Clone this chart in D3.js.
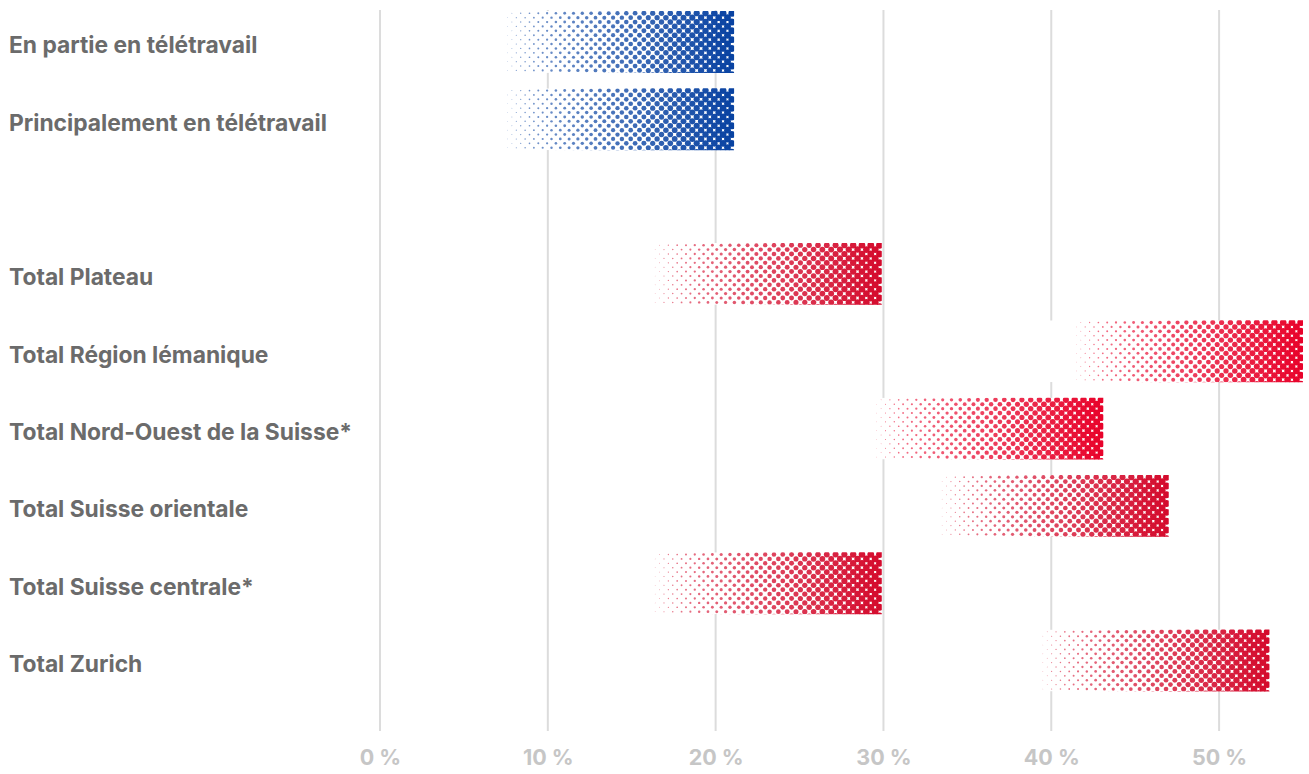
<!DOCTYPE html>
<html>
<head>
<meta charset="utf-8">
<script src="https://cdn.jsdelivr.net/npm/d3@7"></script>
<style>
  html, body { margin: 0; padding: 0; background: #fff; }
  svg { display: block; }
  text { font-family: Inter, "Noto Sans", sans-serif; font-weight: 700; }
</style>
</head>
<body>
<svg id="chart" width="1309" height="774"></svg>
<script>
// ---- data ----
const categories = [
  "En partie en télétravail",
  "Principalement en télétravail",
  "",
  "Total Plateau",
  "Total Région lémanique",
  "Total Nord-Ouest de la Suisse*",
  "Total Suisse orientale",
  "Total Suisse centrale*",
  "Total Zurich"
];
const values = [21.1, 21.1, null, 29.9, 55.0, 43.1, 47.0, 29.9, 53.0];
const groups = ["blue", "blue", null, "redMuted", "red", "red", "redMuted", "redMuted", "redMuted"];
const tickValues = [0, 10, 20, 30, 40, 50];
const tickLabels = ["0 %", "10 %", "20 %", "30 %", "40 %", "50 %"];

// ---- styles ----
const palette = { blue: "#0842a2", red: "#e8022a", redMuted: "#d40a2c" };
const fadeSpan = 14;     // percentage points covered by the halftone fade
const whiteSpan = 16;    // percentage points of white backing behind a bar
const cell = 4.4, maxR = 3.5;

const svg = d3.select("#chart");
const x = d3.scaleLinear().domain([0, 55]).range([380, 1303]);
const y = d3.scaleBand().domain(categories.map((c, i) => i))
  .range([3.3, 699.2]).paddingInner(0.2).paddingOuter(0.1);

// gridlines
svg.append("g").selectAll("line").data(tickValues).join("line")
  .attr("x1", d => x(d)).attr("x2", d => x(d))
  .attr("y1", 10).attr("y2", 731)
  .attr("stroke", "#dcdcdc").attr("stroke-width", 2);

// axis labels
const axis = d3.axisBottom(x).tickValues(tickValues)
  .tickFormat((d, i) => tickLabels[i]).tickSize(0).tickPadding(0);
const ax = svg.append("g").attr("transform", "translate(0,750)").call(axis);
ax.select(".domain").remove();
ax.selectAll("text").attr("fill", "#c6c6c6").style("font-size", "21.5px")
  .style("font-family", "Inter, 'Noto Sans', sans-serif").style("font-weight", 700);

// category labels
svg.append("g").selectAll("text").data(categories).join("text")
  .attr("x", 9).attr("y", (d, i) => y(i) + y.bandwidth() / 2 + 3)
  .attr("dominant-baseline", "central")
  .attr("fill", "#6b6b6b").style("font-size", "22.8px")
  .text(d => d);

// bars
const defs = svg.append("defs");
const bars = categories.map((c, i) => ({ i, v: values[i], g: groups[i] })).filter(d => d.v != null);

const gb = svg.append("g");
bars.forEach(b => {
  const x1 = x(b.v), x0 = x(b.v - fadeSpan), xw = x(b.v - whiteSpan);
  const y0 = y(b.i), h = y.bandwidth();
  const id = "clip" + b.i;
  defs.append("clipPath").attr("id", id).append("rect")
    .attr("x", xw).attr("y", y0).attr("width", x1 - xw).attr("height", h);
  const g = gb.append("g").attr("clip-path", `url(#${id})`);
  g.append("rect").attr("x", xw).attr("y", y0).attr("width", x1 - xw).attr("height", h)
    .attr("fill", "#fff");
  const dots = [];
  const nCols = Math.ceil((x1 - x0) / cell) + 1;
  const nRows = Math.ceil(h / cell) + 1;
  for (let c = 0; c < nCols; c++) {
    const cx = x1 - cell / 2 - c * cell;
    const t = Math.max(0, Math.min(1, (cx - x0) / (x1 - x0)));
    const r = maxR * Math.pow(t, 0.7);
    if (r < 0.3) continue;
    for (let rr = 0; rr < nRows; rr++) {
      if ((c + rr) % 2) continue;
      dots.push({ cx, cy: y0 + cell / 2 + rr * cell, r, t });
    }
  }
  g.selectAll("circle").data(dots).join("circle")
    .attr("cx", d => d.cx).attr("cy", d => d.cy).attr("r", d => d.r)
    .attr("fill", palette[b.g]).attr("fill-opacity", d => 0.5 + 0.5 * d.t);
});
</script>
</body>
</html>
